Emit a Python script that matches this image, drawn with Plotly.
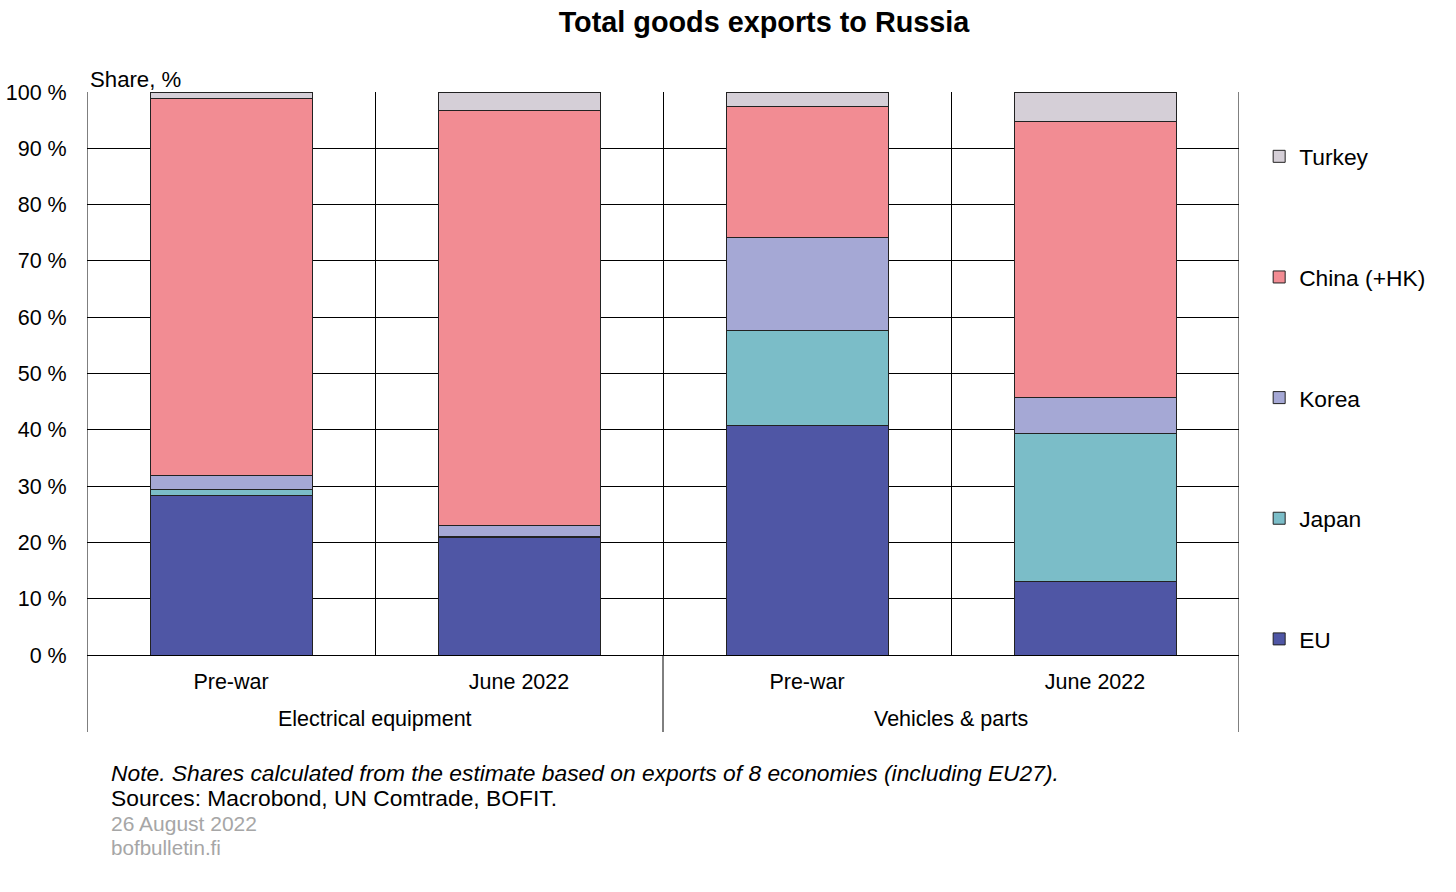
import plotly.graph_objects as go

group_names = ["Electrical equipment", "Vehicles & parts"]
groups = ["Electrical equipment", "Electrical equipment", "Vehicles & parts", "Vehicles & parts"]
periods = ["Pre-war", "June 2022", "Pre-war", "June 2022"]

series_names = ["EU", "Japan", "Korea", "China (+HK)", "Turkey"]
eu = [28.4, 20.8, 40.7, 13.0]
japan = [1.0, 0.3, 17.0, 26.3]
korea = [2.5, 1.9, 16.5, 6.5]
china = [66.9, 73.7, 23.3, 49.0]
turkey = [1.2, 3.3, 2.5, 5.2]
values = [eu, japan, korea, china, turkey]
colors = ["#4F56A5", "#7BBDC8", "#A5A8D5", "#F28C93", "#D5CFD7"]

y_ticks = [0, 10, 20, 30, 40, 50, 60, 70, 80, 90, 100]
y_tick_labels = [f"{v} %" for v in y_ticks]

FONT = "Liberation Sans, Arial, sans-serif"

xpos = list(range(len(periods)))

fig = go.Figure()
for i, (name, vals, col) in enumerate(zip(series_names, values, colors)):
    fig.add_trace(go.Bar(
        x=xpos, y=vals, name=name, legendgroup=name,
        legendrank=len(series_names) - i,
        marker=dict(color=col, line=dict(color="#222222", width=1)),
        width=0.5625,
        customdata=list(zip(groups, periods)),
        hovertemplate="%{customdata[0]} – %{customdata[1]}<br>" + name + ": %{y:.1f} %<extra></extra>",
    ))

W, H = 1456, 892
L, R, T, B = 87, 217, 92, 237
PH = H - T - B  # plot height in px

fig.update_layout(
    barmode="stack",
    width=W, height=H,
    paper_bgcolor="white", plot_bgcolor="white",
    margin=dict(l=L, r=R, t=T, b=B, autoexpand=False),
    font=dict(family=FONT, size=21.5, color="black"),
    title=dict(text="<b>Total goods exports to Russia</b>", x=764 / W, xanchor="center",
               y=1 - 22 / H, yanchor="middle", font=dict(size=28.8, family=FONT)),
    showlegend=True,
    legend=dict(x=1.0175, xanchor="left", y=1 - (135 - T) / PH, yanchor="top",
                traceorder="grouped", tracegroupgap=88,
                font=dict(size=22.8), itemwidth=30, bgcolor="rgba(0,0,0,0)"),
    xaxis=dict(range=[-0.5, 3.5], tickmode="array", tickvals=xpos, ticktext=periods,
               showgrid=False, zeroline=False, showline=False, automargin=False,
               ticks="outside", ticklen=7, tickcolor="rgba(0,0,0,0)",
               tickfont=dict(size=21.5),
               minor=dict(tickmode="linear", tick0=-0.5, dtick=1, showgrid=True,
                          gridcolor="black", gridwidth=1, ticks="")),
    yaxis=dict(range=[0, 100], tickmode="array", tickvals=y_ticks, ticktext=y_tick_labels,
               showgrid=True, gridcolor="black", gridwidth=1, automargin=False,
               zeroline=True, zerolinecolor="black", zerolinewidth=1,
               showline=False, ticks="outside", ticklen=15, tickcolor="rgba(0,0,0,0)",
               tickfont=dict(size=21.5)),
)

# group labels and dividers below the axis
for i, g in enumerate(group_names):
    fig.add_annotation(text=g, xref="x", yref="paper", x=2 * i + 0.5, y=(655 - 719) / PH,
                       xanchor="center", yanchor="middle", showarrow=False,
                       font=dict(size=21.5))
for xv in [-0.5, 1.5, 3.5]:
    fig.add_shape(type="line", xref="x", yref="paper", x0=xv, x1=xv,
                  y0=(655 - 732) / PH, y1=1 if xv in (-0.5, 3.5) else 0,
                  line=dict(color="black", width=1))

fig.add_annotation(text="Share, %", xref="paper", yref="paper", x=0.0005, y=1.0,
                   xanchor="left", yanchor="bottom", showarrow=False, yshift=-2,
                   font=dict(size=22.2))

notes = [
    ("<i>Note. Shares calculated from the estimate based on exports of 8 economies (including EU27).</i>", "black", 773, 22.8),
    ("Sources: Macrobond, UN Comtrade, BOFIT.", "black", 798, 22.8),
    ("26 August 2022", "#A6A6A6", 823, 21.0),
    ("bofbulletin.fi", "#A6A6A6", 847, 20.6),
]
for txt, col, ypx, fs in notes:
    fig.add_annotation(text=txt, xref="paper", yref="paper",
                       x=(109 - L) / 1152, y=(655 - ypx) / PH,
                       xanchor="left", yanchor="middle", showarrow=False,
                       font=dict(size=fs, color=col))

fig.write_html("out.html", config={"displayModeBar": False},
               post_script="document.body.style.margin='0';document.body.style.overflow='hidden';")
